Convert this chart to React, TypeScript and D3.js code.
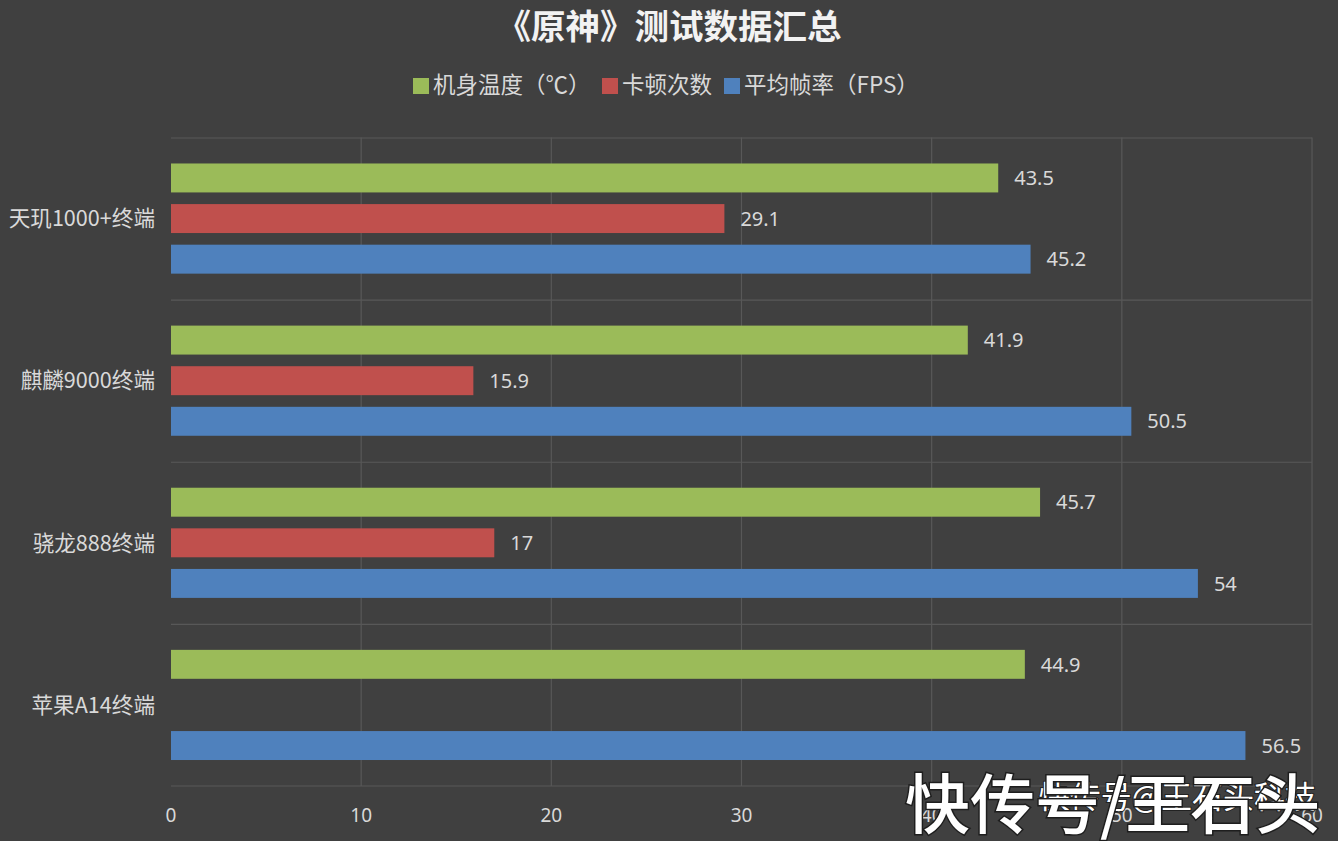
import React from 'react';
import * as d3 from 'd3';

// chart data
const categories = ['天玑1000+终端', '麒麟9000终端', '骁龙888终端', '苹果A14终端'];
const seriesNames = ['机身温度（℃）', '卡顿次数', '平均帧率（FPS）'];
const seriesColors = ['#9bbb59', '#c0504d', '#4f81bd'];
const temperature = [43.5, 41.9, 45.7, 44.9];
const stutters: (number | null)[] = [29.1, 15.9, 17, null];
const avgFps = [45.2, 50.5, 54, 56.5];
const xTicks = [0, 10, 20, 30, 40, 50, 60];

const seriesValues = [temperature, stutters, avgFps];

const WIDTH = 1338;
const HEIGHT = 841;
const margin = { top: 137.5, right: 26, bottom: 55, left: 171 };

const BG = '#404040';
const GRID = '#585858';
const TEXT = '#d9d9d9';
const CJK = "'Noto Sans CJK SC', 'Noto Sans', sans-serif";
const LATIN = "'Noto Sans', 'Noto Sans CJK SC', sans-serif";

const App = () => {
  // scales
  const x = d3
    .scaleLinear()
    .domain([0, 60])
    .range([margin.left, WIDTH - margin.right]);

  const y = d3
    .scaleBand<string>()
    .domain(categories)
    .range([margin.top, HEIGHT - margin.bottom])
    .padding(0);

  const ySub = d3
    .scaleBand<number>()
    .domain([0, 1, 2])
    .range([0, y.bandwidth()])
    .paddingInner(0.287)
    .paddingOuter(0.64);

  const plotTop = margin.top;
  const plotBottom = HEIGHT - margin.bottom;

  // legend layout (x start of each swatch)
  const legendX = [413, 602, 724];

  return (
    <svg
      width={WIDTH}
      height={HEIGHT}
      style={{ position: 'absolute', left: 0, top: 0, display: 'block' }}
    >
      <rect x={0} y={0} width={WIDTH} height={HEIGHT} fill={BG} />

      {/* title */}
      <text
        x={WIDTH / 2}
        y={39}
        textAnchor="middle"
        fontFamily={CJK}
        fontSize={34.5}
        fontWeight="bold"
        fill="#f2f2f2"
      >
        《原神》测试数据汇总
      </text>

      {/* legend */}
      {seriesNames.map((name, i) => (
        <g key={name} transform={`translate(${legendX[i]},0)`}>
          <rect x={0} y={78} width={16} height={16} fill={seriesColors[i]} />
          <text x={20} y={93} fontFamily={CJK} fontSize={22.5} fill={TEXT}>
            {name}
          </text>
        </g>
      ))}

      {/* horizontal gridlines at category boundaries */}
      {categories.map((c) => (
        <line
          key={'h' + c}
          x1={x(0)}
          x2={x(60)}
          y1={(y(c) as number) + 0.5}
          y2={(y(c) as number) + 0.5}
          stroke={GRID}
          strokeWidth={1.2}
        />
      ))}
      <line
        x1={x(0)}
        x2={x(60)}
        y1={plotBottom}
        y2={plotBottom}
        stroke={GRID}
        strokeWidth={1.2}
      />

      {/* vertical gridlines */}
      {xTicks
        .filter((t) => t > 0)
        .map((t) => (
          <line
            key={'v' + t}
            x1={x(t)}
            x2={x(t)}
            y1={plotTop}
            y2={plotBottom}
            stroke={GRID}
            strokeWidth={1.2}
          />
        ))}

      {/* bars + value labels */}
      {categories.map((c, ci) => (
        <g key={c} transform={`translate(0,${y(c)})`}>
          {seriesValues.map((vals, si) => {
            const v = vals[ci];
            if (v == null) return null;
            const by = ySub(si) as number;
            const bh = ySub.bandwidth();
            return (
              <g key={si}>
                <rect
                  x={x(0)}
                  y={by}
                  width={x(v) - x(0)}
                  height={bh}
                  fill={seriesColors[si]}
                />
                <text
                  x={x(v) + 16}
                  y={by + bh / 2}
                  dy="0.36em"
                  fontFamily={LATIN}
                  fontSize={20}
                  fill={TEXT}
                >
                  {v}
                </text>
              </g>
            );
          })}
          <text
            x={155}
            y={y.bandwidth() / 2}
            dy="0.36em"
            textAnchor="end"
            fontFamily={CJK}
            fontSize={21.6}
            fill={TEXT}
          >
            {c}
          </text>
        </g>
      ))}

      {/* x axis tick labels */}
      {xTicks.map((t) => (
        <text
          key={'t' + t}
          x={x(t)}
          y={822}
          textAnchor="middle"
          fontFamily={LATIN}
          fontSize={19}
          fill={TEXT}
        >
          {t}
        </text>
      ))}

      {/* watermark */}
      <text
        x={1316}
        y={808}
        textAnchor="end"
        fontFamily={CJK}
        fontSize={31}
        fill="#ffffff"
        stroke="#222"
        strokeWidth={2}
        paintOrder="stroke"
      >
        快传号@王石头科技
      </text>
      <text
        x={905}
        y={828}
        fontFamily={CJK}
        fontSize={65}
        fontWeight={500}
        fill="#ffffff"
        stroke="#1e1e1e"
        strokeWidth={3}
        paintOrder="stroke"
      >
        快传号/王石头
      </text>
    </svg>
  );
};

export default App;
